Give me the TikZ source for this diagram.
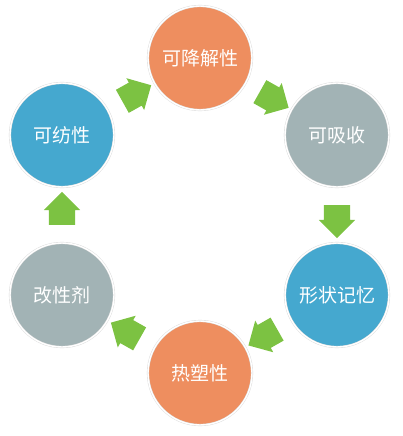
\documentclass[tikz,border=0pt]{standalone}
\usepackage{fontspec}
\newfontfamily\cjk{Noto Sans CJK SC}
\usetikzlibrary{shapes.arrows}
\definecolor{hcoral}{HTML}{EE8E5F}
\definecolor{hblue}{HTML}{45A8CF}
\definecolor{hgrey}{HTML}{A2B3B5}
\definecolor{hgreen}{HTML}{7CC242}
\tikzset{
  rond/.style={circle, draw=gray!30, double=white, double distance=1.4pt, line width=0.4pt, fill=#1,
               minimum size=104pt, inner sep=0pt, font=\cjk\fontsize{19}{19}\selectfont, text=white},
  fleche/.style={single arrow, fill=hgreen, draw=none, inner xsep=0pt, inner ysep=13pt,
                 minimum height=33pt, single arrow head extend=5pt, sloped, allow upside down},
}
\begin{document}
\begin{tikzpicture}[x=1pt,y=-1pt]
  \useasboundingbox (0,0) rectangle (403,436);
  \node[rond=hcoral] (degr)   at (200,58)  {可降解性};
  \node[rond=hgrey]  (absor)  at (337,135) {可吸收};
  \node[rond=hblue]  (memo)   at (337,295) {形状记忆};
  \node[rond=hcoral] (thermo) at (200,373) {热塑性};
  \node[rond=hgrey]  (modif)  at (62,295)  {改性剂};
  \node[rond=hblue]  (spin)   at (62,135)  {可纺性};
  \path (spin) -- node[fleche]{} (degr);
  \path (degr) -- node[fleche]{} (absor);
  \path (absor) -- node[fleche]{} (memo);
  \path (memo) -- node[fleche]{} (thermo);
  \path (thermo) -- node[fleche]{} (modif);
  \path (modif) -- node[fleche]{} (spin);
\end{tikzpicture}
\end{document}
